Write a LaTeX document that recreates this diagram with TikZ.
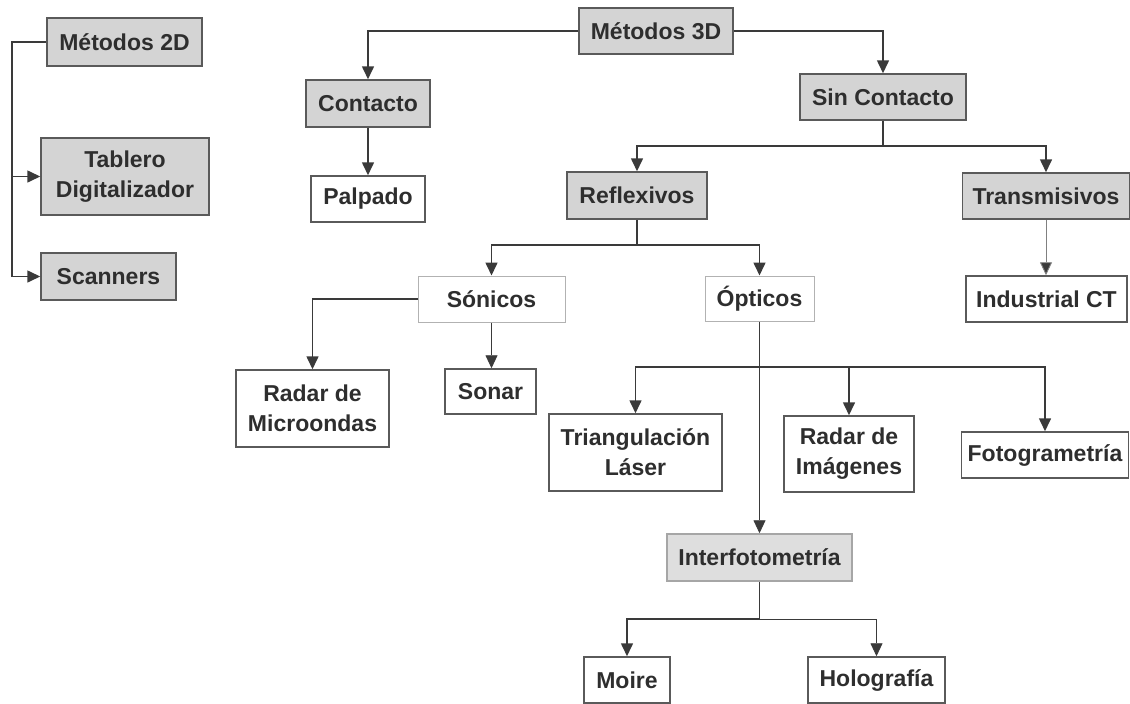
\documentclass[tikz,border=0pt]{standalone}
\usepackage{fontspec}
\setmainfont{Liberation Sans}
\usetikzlibrary{arrows.meta}
\definecolor{boxgray}{HTML}{D4D4D4}
\definecolor{softgray}{HTML}{DEDEDE}
\definecolor{linegray}{HTML}{3A3A3A}
\definecolor{framegray}{HTML}{5A5A5A}
\definecolor{txtgray}{HTML}{2E2E2E}
\tikzset{
	caja/.style={draw=framegray, line width=1.5pt, fill=white, inner sep=0pt, align=center, text=txtgray, font=\fontsize{23}{30}\selectfont\bfseries},
	cajagris/.style={caja, fill=boxgray},
	cajaclara/.style={caja, draw=gray!60, line width=1pt},
	linea/.style={draw=linegray, line width=1.6pt},
	flecha/.style={linea, -{Triangle[length=13pt,width=12pt]}},
	flechafina/.style={flecha, line width=0.9pt}
}

\begin{document}
\begin{tikzpicture}[x=1pt, y=-1pt]
			\useasboundingbox (0,0) rectangle (1130,704);
			\node[cajagris, minimum width=155pt, minimum height=48pt] (m2d) at (124.5,42) {Métodos 2D};
			\node[cajagris, minimum width=168pt, minimum height=77pt] (tablero) at (125,176.5) {Tablero\\Digitalizador};
			\node[cajagris, minimum width=135pt, minimum height=47pt] (scanners) at (108.5,276.5) {Scanners};
			\node[cajagris, minimum width=154pt, minimum height=46pt] (m3d) at (656,31) {Métodos 3D};
			\node[cajagris, minimum width=124pt, minimum height=47pt] (contacto) at (368,103.5) {Contacto};
			\node[caja, minimum width=114pt, minimum height=46pt] (palpado) at (368,199) {Palpado};
			\node[cajagris, minimum width=166pt, minimum height=46pt] (sincontacto) at (883,97) {Sin Contacto};
			\node[cajagris, minimum width=140pt, minimum height=47pt] (reflexivos) at (637,195.5) {Reflexivos};
			\node[cajagris, minimum width=167pt, minimum height=46pt] (transmisivos) at (1046,196) {Transmisivos};
			\node[cajaclara, minimum width=147pt, minimum height=46pt] (sonicos) at (491.5,299) {Sónicos};
			\node[cajaclara, minimum width=109pt, minimum height=45pt] (opticos) at (759.5,298.5) {Ópticos};
			\node[caja, minimum width=161pt, minimum height=46pt] (industrial) at (1046.5,299) {Industrial CT};
			\node[caja, minimum width=153pt, minimum height=77pt] (microondas) at (312.5,408.5) {Radar de\\Microondas};
			\node[caja, minimum width=91pt, minimum height=45pt] (sonar) at (490.5,391.5) {Sonar};
			\node[caja, minimum width=173pt, minimum height=77pt] (triangulacion) at (635.5,452.5) {Triangulación\\Láser};
			\node[caja, minimum width=130pt, minimum height=76pt] (radarimg) at (849,454) {Radar de\\Imágenes};
			\node[caja, minimum width=167pt, minimum height=46pt] (fotogrametria) at (1045,455) {Fotogrametría};
			\node[cajagris, fill=softgray, draw=gray!70, minimum width=185pt, minimum height=47pt] (interf) at (759.5,557.5) {Interfotometría};
			\node[caja, minimum width=86pt, minimum height=46pt] (moire) at (627,680) {Moire};
			\node[caja, minimum width=137pt, minimum height=46pt] (holografia) at (876.5,680) {Holografía};
			\coordinate (bus2d) at (12,42);
			\coordinate (splitsc) at (883,146);
			\coordinate (splitrf) at (637,245);
			\coordinate (splitop) at (759.5,367);
			\coordinate (splitif) at (759.5,619);
			\draw[flecha] (m2d.west) -- (bus2d) |- (scanners.west);
			\draw[flecha] (bus2d |- tablero.west) -- (tablero.west);
			\draw[flecha] (m3d.west) -| (contacto.north);
			\draw[flecha] (m3d.east) -| (sincontacto.north);
			\draw[flecha] (contacto.south) -- (palpado.north);
			\draw[linea] (sincontacto.south) -- (splitsc);
			\draw[flecha] (splitsc) -| (reflexivos.north);
			\draw[flecha] (splitsc) -| (transmisivos.north);
			\draw[flechafina, draw=gray, -{Triangle[length=13pt,width=12pt,fill=linegray]}] (transmisivos.south) -- (industrial.north -| transmisivos.south);
			\draw[linea] (reflexivos.south) -- (splitrf);
			\draw[flecha] (splitrf) -| (sonicos.north);
			\draw[flecha] (splitrf) -| (opticos.north);
			\draw[flecha] (sonicos.west) -| (microondas.north);
			\draw[flechafina] (sonicos.south) -- (sonicos.south |- sonar.north);
			\draw[flechafina] (opticos.south) -- (interf.north);
			\draw[flecha] (splitop) -| (triangulacion.north);
			\draw[flecha] (splitop) -| (radarimg.north);
			\draw[flecha] (splitop) -| (fotogrametria.north);
			\draw[linea, line width=0.9pt] (interf.south) -- (splitif);
			\draw[flecha] (splitif) -| (moire.north);
			\draw[flechafina] (splitif) -| (holografia.north);
\end{tikzpicture}
\end{document}
